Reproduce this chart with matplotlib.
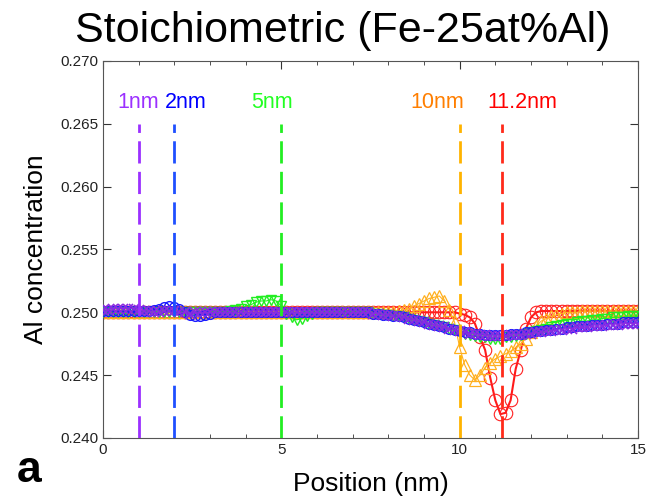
import numpy as np
import matplotlib
matplotlib.use('Agg')
import matplotlib.pyplot as plt
from matplotlib.ticker import MultipleLocator

plt.rcParams['font.family'] = ['Liberation Sans', 'DejaVu Sans']

## positions: one value every 1/7 nm, 0 to 15 nm
position = np.arange(106) / 7.0

## Al concentration, read off the picture as deviation from 0.25 in units of 1e-4
## rows hold 1 nm each
dev_1nm = [2, 2, 3, 3, 3, 3, 3,
           2, 1, 1, 0, 0, 1, 1,
           1, 0, 0, -1, 0, 0, 0,
           0, 0, 0, 0, 0, 0, 0,
           0, 0, 0, 0, 0, 0, 0,
           0, 0, 0, 0, 0, 0, 0,
           0, 0, 0, 0, 0, 0, 0,
           0, 0, 0, 0, -1, -1, -2,
           -2, -3, -3, -4, -5, -6, -7,
           -8, -9, -10, -11, -12, -13, -14,
           -15, -16, -17, -17, -18, -18, -19,
           -19, -19, -19, -18, -18, -18, -17,
           -17, -16, -16, -15, -15, -14, -14,
           -13, -13, -12, -12, -12, -11, -11,
           -11, -10, -10, -10, -9, -9, -9,
           -9]
dev_2nm = [1, 1, 1, 1, 1, 1, 1,
           1, 1, 1, 2, 3, 4, 5,
           4, 3, 0, -2, -3, -3, -2,
           -1, 0, 0, 0, 0, 0, 0,
           0, 0, 0, 0, 0, 0, 0,
           0, 0, 0, 0, 0, 0, 0,
           0, 0, 0, 0, 0, 0, 0,
           0, 0, 0, 0, -1, -1, -2,
           -2, -3, -3, -4, -5, -6, -7,
           -8, -9, -10, -11, -12, -13, -14,
           -15, -16, -16, -17, -17, -18, -18,
           -18, -18, -18, -17, -17, -17, -16,
           -16, -15, -15, -14, -14, -13, -13,
           -12, -12, -11, -11, -11, -10, -10,
           -10, -9, -9, -9, -8, -8, -8,
           -8]
dev_5nm = [0, 0, 0, 0, 0, 0, 0,
           0, 0, 0, 0, 0, 0, 0,
           0, 0, 0, 0, 0, 0, 0,
           0, 0, 0, 0, 1, 2, 3,
           5, 6, 8, 9, 9, 10, 9,
           5, -1, -4, -6, -5, -3, -1,
           0, 0, 0, 0, 0, 0, 0,
           0, 0, 0, 0, -1, -1, -2,
           -2, -3, -3, -4, -5, -6, -7,
           -8, -9, -10, -11, -12, -13, -14,
           -16, -17, -18, -19, -20, -20, -21,
           -21, -21, -20, -20, -19, -18, -17,
           -16, -15, -14, -13, -12, -11, -10,
           -9, -9, -8, -7, -7, -6, -6,
           -5, -5, -4, -4, -4, -3, -3,
           -3]
dev_10nm = [0, 0, 0, 0, 0, 0, 0,
            0, 0, 0, 0, 0, 0, 0,
            0, 0, 0, 0, 0, 0, 0,
            0, 0, 0, 0, 0, 0, 0,
            0, 0, 0, 0, 0, 0, 0,
            0, 0, 0, 0, 0, 0, 0,
            0, 0, 0, 0, 0, 0, 0,
            0, 0, 0, 0, 0, 0, 0,
            0, 0, 1, 2, 3, 5, 7,
            9, 11, 12, 13, 9, 2, -8,
            -28, -42, -50, -54, -50, -44, -40,
            -37, -35, -33, -31, -28, -25, -21,
            -16, -11, -7, -5, -3, -2, -1,
            0, 0, 0, 1, 1, 1, 1,
            1, 1, 1, 1, 1, 1, 1,
            1]
dev_11nm = [0, 0, 0, 0, 0, 0, 0,
            0, 0, 0, 0, 0, 0, 0,
            0, 0, 0, 0, 0, 0, 0,
            0, 0, 0, 0, 0, 0, 0,
            0, 0, 0, 0, 0, 0, 0,
            0, 0, 0, 0, 0, 0, 0,
            0, 0, 0, 0, 0, 0, 0,
            0, 0, 0, 0, 0, 0, 0,
            0, 0, 0, 0, 0, 0, 0,
            0, 0, 0, 0, 0, 0, 0,
            -1, -2, -4, -9, -20, -30, -52,
            -70, -81, -80, -70, -45, -30, -13,
            -4, 0, 1, 1, 1, 1, 1,
            1, 1, 1, 1, 1, 1, 1,
            1, 1, 1, 1, 1, 1, 1,
            1]

## label of each run, where the dashed line goes, where its text sits
sizes = ['1nm', '2nm', '5nm', '10nm', '11.2nm']
line_pos = [1.0, 2.0, 5.0, 10.0, 11.2]
text_pos = [0.98, 2.33, 4.73, 9.38, 11.75]
line_colors = ['#9b30ff', '#1f4fff', '#22ee22', '#ffb300', '#ff2a1a']
text_colors = ['#9b30ff', '#0000ff', '#22ff22', '#ff7f00', '#ff0000']

fig = plt.figure(figsize=(6.5, 5.04), dpi=100)
ax = fig.add_axes([0.1585, 0.131, 0.823, 0.748])

def conc(dev):
    return 0.25 + np.array(dev) / 1e4

## 11.2 nm and 10 nm first, the broad band goes over them
ax.plot(position, conc(dev_11nm), color='#ff1a1a', lw=1.5, marker='o', ms=9,
        mfc='none', mec='#ff2020', mew=0.8, zorder=2)
ax.plot(position, conc(dev_10nm), color='#ffb020', lw=0.8, marker='^', ms=8,
        mfc='none', mec='#ffb020', mew=0.9, zorder=2)
ax.plot(position, conc(dev_5nm), color='#22ee22', lw=0.8, marker='v', ms=7.5,
        mfc='none', mec='#22ee22', mew=1.0, zorder=3)
ax.plot(position, conc(dev_2nm), color='#1a1aff', lw=0.8, marker='o', ms=7,
        mfc='none', mec='#1a1aff', mew=1.0, zorder=3)
ax.plot(position, conc(dev_1nm), color='#8a2be2', lw=0.8, marker='x', ms=6.5,
        mec='#8a2be2', mew=1.2, zorder=3)

## dashed lines marking each size
for pos, tpos, lab, lc, tc in zip(line_pos, text_pos, sizes, line_colors, text_colors):
    ax.plot([pos, pos], [0.240, 0.265], color=lc, lw=2, ls=(0, (8, 3)), zorder=4)
    ax.text(tpos, 0.2667, lab, color=tc, fontsize=15.5, ha='center', va='center')

ax.set_xlim(0, 15)
ax.set_ylim(0.240, 0.270)
ax.set_xticks([0, 5, 10, 15])
ax.xaxis.set_minor_locator(MultipleLocator(1))
ax.set_yticks(np.arange(0.240, 0.2701, 0.005))
ax.yaxis.set_major_formatter(matplotlib.ticker.FormatStrFormatter('%.3f'))
ax.tick_params(which='both', direction='in', top=True, right=True,
               labelsize=11, labelcolor='#222222', color='#333333')
ax.tick_params(which='major', length=6)
ax.tick_params(which='minor', length=3)
for sp in ax.spines.values():
    sp.set_color('#555555')

ax.set_xlabel('Position (nm)', fontsize=19, labelpad=11)
ax.set_ylabel('Al concentration', fontsize=19, labelpad=9)

fig.text(343 / 650, 1 - 31 / 504, 'Stoichiometric (Fe-25at%Al)', fontsize=31,
         ha='center', va='center')
fig.text(0.026, 0.066, 'a', fontsize=32, fontweight='bold', ha='left', va='center')

fig.savefig('out.png', dpi=100)
